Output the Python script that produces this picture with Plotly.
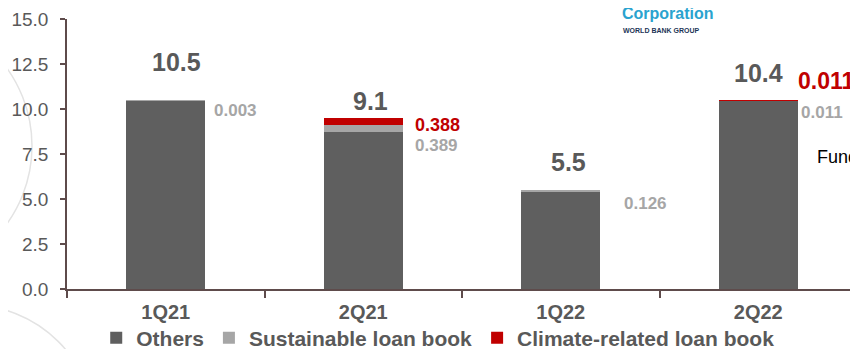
import plotly.graph_objects as go

quarters = ["1Q21", "2Q21", "1Q22", "2Q22"]
others = [10.45, 8.70, 5.40, 10.45]
sustainable = [0.003, 0.389, 0.126, 0.011]
climate = [0.0, 0.388, 0.0, 0.011]

total_labels = ["10.5", "9.1", "5.5", "10.4"]
sust_labels = ["0.003", "0.389", "0.126", "0.011"]
climate_labels = ["", "0.388", "", "0.011"]

FONT = "Liberation Sans, Arial, sans-serif"
DARK = "#5f5f5f"
LIGHT = "#a6a6a6"
RED = "#c00000"
TXT = "#595959"
AXIS = "#5e4b4b"

fig = go.Figure()
fig.add_trace(go.Bar(x=quarters, y=others, name="Others", marker_color=DARK, marker_line_width=0, width=0.4))
fig.add_trace(go.Bar(x=quarters, y=sustainable, name="Sustainable loan book", marker_color=LIGHT, marker_line_width=0, width=0.4))
fig.add_trace(go.Bar(x=quarters, y=climate, name="Climate-related loan book", marker_color=RED, marker_line_width=0, width=0.4))

# label placement (layout only)
total_y = [12.59, 10.46, 7.08, 12.01]
total_dx = [11, 7, 8, 0]
sust_y = [9.91, 7.97, 4.76, 9.80]
sust_dx = [46, 50, 61, 41]
clim_y = [0, 9.13, 0, 11.57]
clim_dx = [0, 50, 0, 38]
clim_size = [0, 18, 0, 23]

ann = []
for i, q in enumerate(quarters):
    ann.append(dict(x=q, y=total_y[i], text=total_labels[i], showarrow=False, xshift=total_dx[i],
                    font=dict(family=FONT, size=25, color=TXT, weight="bold")))
    ann.append(dict(x=q, y=sust_y[i], text=sust_labels[i], showarrow=False, xshift=sust_dx[i],
                    xanchor="left", font=dict(family=FONT, size=17, color=LIGHT, weight="bold")))
    if climate_labels[i]:
        ann.append(dict(x=q, y=clim_y[i], text=climate_labels[i], showarrow=False, xshift=clim_dx[i],
                        xanchor="left", font=dict(family=FONT, size=clim_size[i], color=RED, weight="bold")))

ann.append(dict(xref="paper", x=0.947, y=7.36, text="Fund", showarrow=False, xanchor="left",
                font=dict(family=FONT, size=18, color="#000000")))
# logo text (top line cut off by the edge, as in the source)
ann.append(dict(xref="paper", yref="paper", x=0.70, y=1.0, yshift=18, text="Finance", showarrow=False,
                xanchor="left", yanchor="middle", font=dict(family=FONT, size=16, color="#2aa3cf", weight="bold")))
ann.append(dict(xref="paper", yref="paper", x=0.70, y=1.0, yshift=6, text="Corporation", showarrow=False,
                xanchor="left", yanchor="middle", font=dict(family=FONT, size=16, color="#2aa3cf", weight="bold")))
ann.append(dict(xref="paper", yref="paper", x=0.701, y=1.0, yshift=-11, text="WORLD BANK GROUP", showarrow=False,
                xanchor="left", yanchor="middle", font=dict(family=FONT, size=7, color="#1d3557", weight="bold")))

shapes = [
    dict(type="circle", xref="paper", yref="paper", xsizemode="pixel", ysizemode="pixel",
         xanchor=0, yanchor=0, x0=-301, x1=-35, y0=10, y1=276, layer="below",
         line=dict(color="#e3e3e3", width=1.5)),
    dict(type="circle", xref="paper", yref="paper", xsizemode="pixel", ysizemode="pixel",
         xanchor=0, yanchor=0, x0=-222, x1=28, y0=-266, y1=-16, layer="below",
         line=dict(color="#e3e3e3", width=1.5)),
]

fig.update_layout(
    barmode="stack",
    width=850, height=341,
    margin=dict(l=59, r=1, t=11, b=60, autoexpand=False),
    paper_bgcolor="white", plot_bgcolor="rgba(0,0,0,0)",
    annotations=ann, shapes=shapes,
    showlegend=True,
    legend=dict(orientation="h", x=0.037, xanchor="left", y=-0.182, yanchor="middle",
                font=dict(family=FONT, size=21, color=TXT, weight="bold"),
                bgcolor="rgba(0,0,0,0)", borderwidth=0, traceorder="normal"),
    xaxis=dict(showline=True, linecolor=AXIS, linewidth=1.5, ticks="outside", tickson="boundaries",
               ticklen=7, tickcolor=AXIS, tickwidth=1.5, ticklabelstandoff=4,
               tickfont=dict(family=FONT, size=20, color=TXT, weight="bold"), showgrid=False),
    yaxis=dict(range=[0, 15], dtick=2.5, tickformat=".1f", showline=True, linecolor=AXIS, linewidth=1.5,
               ticks="outside", ticklen=5, tickcolor=AXIS, tickwidth=1.5, ticklabelstandoff=8,
               tickfont=dict(family=FONT, size=19, color=TXT), showgrid=False, zeroline=False),
)

fig.write_html("out.html")
